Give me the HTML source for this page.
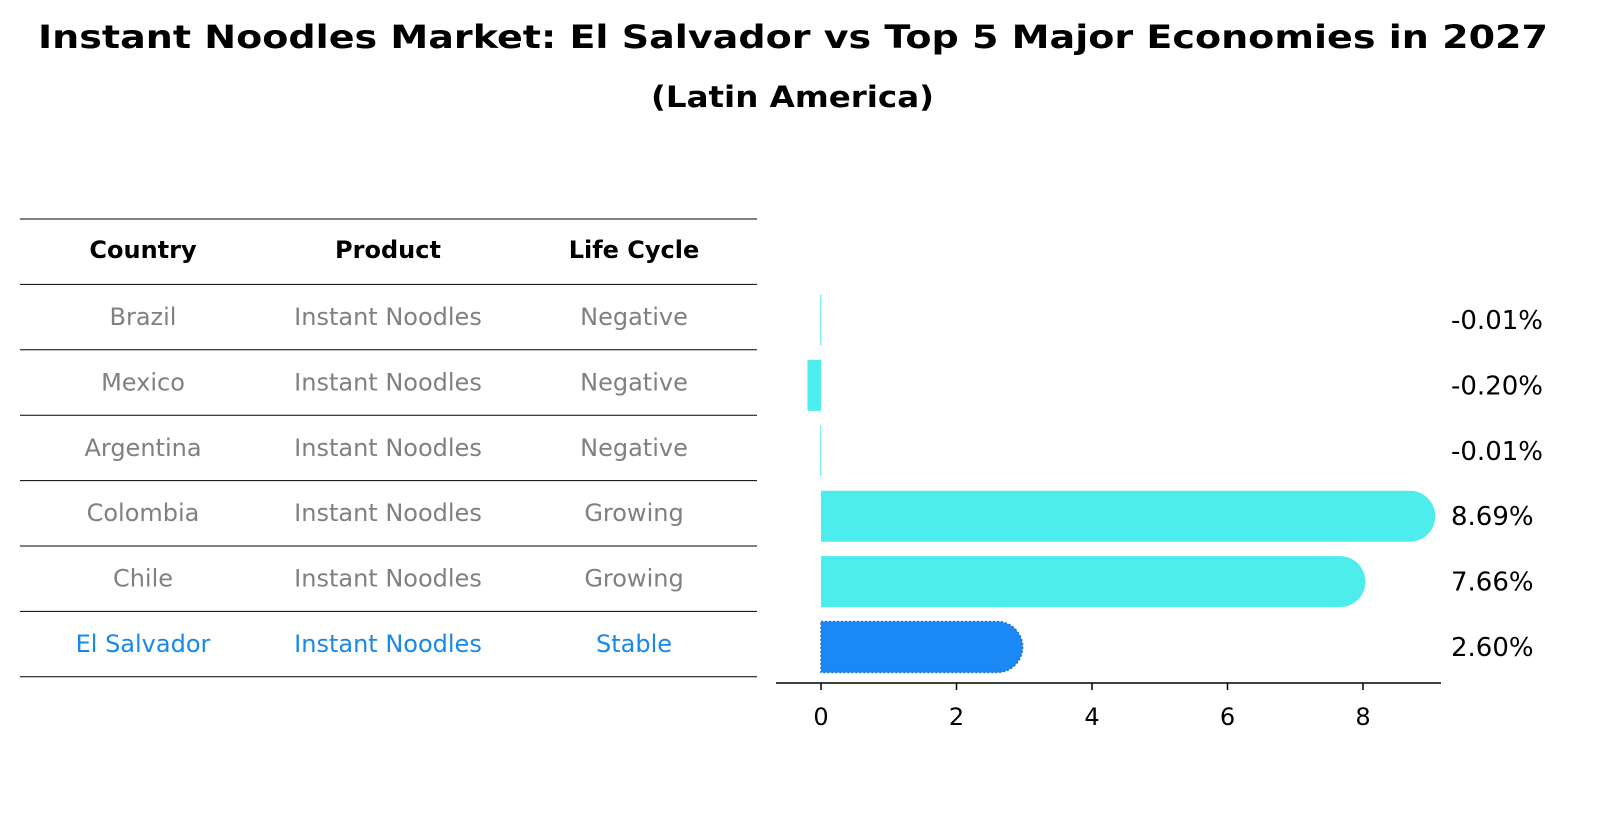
<!DOCTYPE html>
<html><head><meta charset="utf-8"><style>
body{margin:0;background:#fff;font-family:"Liberation Sans","DejaVu Sans",sans-serif;}
</style></head><body>
<div style="position:relative;width:1598px;height:823px;overflow:hidden">
<svg id="s" width="1598" height="823" style="position:absolute;left:0;top:0" font-family="DejaVu Sans, sans-serif">
<text x="38" y="48" font-size="32" font-weight="bold" textLength="1510" lengthAdjust="spacingAndGlyphs">Instant Noodles Market: El Salvador vs Top 5 Major Economies in 2027</text>
<text x="651" y="107" font-size="29" font-weight="bold" textLength="283" lengthAdjust="spacingAndGlyphs">(Latin America)</text>
</svg>
</div>
<script>
const countries=["Brazil","Mexico","Argentina","Colombia","Chile","El Salvador"];
const products=["Instant Noodles","Instant Noodles","Instant Noodles","Instant Noodles","Instant Noodles","Instant Noodles"];
const lifeCycles=["Negative","Negative","Negative","Growing","Growing","Stable"];
const growth=[-0.01,-0.20,-0.01,8.69,7.66,2.60];
const ticks=[0,2,4,6,8];
const NS="http://www.w3.org/2000/svg";
const s=document.getElementById('s');
function mk(t,a,txt){const e=document.createElementNS(NS,t);for(const k in a)e.setAttribute(k,a[k]);if(txt!==undefined)e.textContent=txt;s.appendChild(e);return e;}
const x=v=>821+v*67.75;
const rowY=i=>317+i*65.4;
const colX=[143,388,634];
let h=mk('text',{x:colX[0],y:258,'text-anchor':'middle','font-size':24,'font-weight':'bold'},'Country');


h=mk('text',{x:colX[1],y:258,'text-anchor':'middle','font-size':24,'font-weight':'bold'},'Product');


h=mk('text',{x:colX[2],y:258,'text-anchor':'middle','font-size':24,'font-weight':'bold'},'Life Cycle');


for(let k=0;k<8;k++){const yy=219+k*65.4;const l=mk('line',{x1:20,x2:757,y1:yy,y2:yy,stroke:'#000','stroke-width':1});

}
countries.forEach((c,i)=>{
 const hi=i===countries.length-1;const col=hi?'#1a88e8':'#808080';const y=rowY(i)+8;
 [c,products[i],lifeCycles[i]].forEach((v,j)=>{const e=mk('text',{x:colX[j],y:y,'text-anchor':'middle','font-size':24,fill:col},v);
 
 });
});
const bh=51;
growth.forEach((v,i)=>{
 const hi=i===growth.length-1;const col=hi?'#1a88f5':'#4deded';
 const yc=rowY(i)+3;const y0=yc-bh/2;const x0=Math.min(x(0),x(v));let w=Math.abs(x(v)-x(0));
 let d;
 if(v>0.5){d=`M${x0},${y0}H${x0+w}A${bh/2},${bh/2} 0 0 1 ${x0+w},${y0+bh}H${x0}Z`;}
 else{w=Math.max(w,1);d=`M${x0},${y0}h${w}v${bh}h${-w}Z`;}
 const b=mk('path',{d:d,fill:col,stroke:hi?'#2a6fd0':'none','stroke-width':hi?1.5:0,'stroke-dasharray':hi?'2,2':''});
 
 
 const t=mk('text',{x:1451,y:yc+9,'font-size':26,fill:'#000'},v.toFixed(2)+'%');
 
 
});
const ax=mk('line',{x1:776,x2:1441,y1:683,y2:683,stroke:'#000','stroke-width':1.5});


ticks.forEach(v=>{const tl=mk('line',{x1:x(v),x2:x(v),y1:683,y2:690,stroke:'#000','stroke-width':1.5});


const tt=mk('text',{x:x(v),y:725,'text-anchor':'middle','font-size':24},String(v));

});
</script>
</body></html>
